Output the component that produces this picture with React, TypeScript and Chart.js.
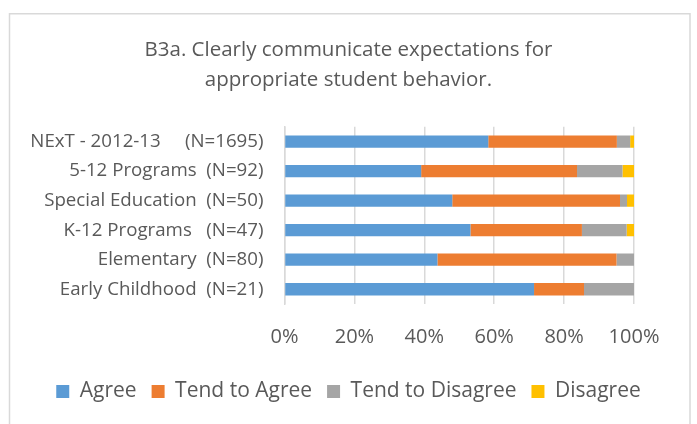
import React, { useEffect, useRef } from "react";
import { Chart, registerables } from "chart.js";

Chart.register(...registerables);

const categories = [
  "NExT - 2012-13     (N=1695)",
  "5-12 Programs  (N=92)",
  "Special Education  (N=50)",
  "K-12 Programs   (N=47)",
  "Elementary  (N=80)",
  "Early Childhood  (N=21)",
];
const agree = [58.3, 39.1, 48, 53.2, 43.75, 71.4];
const tendAgree = [36.8, 44.6, 48, 31.9, 51.25, 14.3];
const tendDisagree = [3.8, 13.0, 2, 12.8, 5, 14.3];
const disagree = [1.1, 3.3, 2, 2.1, 0, 0];
const seriesNames = ["Agree", "Tend to Agree", "Tend to Disagree", "Disagree"];
const seriesColors = ["#5B9BD5", "#ED7D31", "#A5A5A5", "#FFC000"];
const titleLines = [
  "B3a. Clearly communicate expectations for",
  "appropriate student behavior.",
];

const FONT = "'Open Sans', sans-serif";
const TEXT = "#595959";

const borderPlugin = {
  id: "frame",
  beforeDraw(chart: any) {
    const ctx = chart.ctx;
    ctx.save();
    ctx.fillStyle = "#ffffff";
    ctx.fillRect(0, 0, chart.width, chart.height);
    ctx.strokeStyle = "#d9d9d9";
    ctx.lineWidth = 1.5;
    ctx.strokeRect(9.5, 13.75, 680.5, 500);
    ctx.restore();
  },
};

export default function App() {
  const ref = useRef<HTMLCanvasElement>(null);
  useEffect(() => {
    if (!ref.current) return;
    const data = [agree, tendAgree, tendDisagree, disagree];
    const chart = new Chart(ref.current, {
      type: "bar",
      data: {
        labels: categories,
        datasets: seriesNames.map((name, i) => ({
          label: name,
          data: data[i],
          backgroundColor: seriesColors[i],
          borderWidth: 0,
          barPercentage: 1,
          categoryPercentage: 0.417,
        })),
      },
      options: {
        indexAxis: "y",
        responsive: false,
        animation: false,
        layout: { padding: { top: 35, bottom: 12, left: 0, right: 0 } },
        plugins: {
          title: {
            display: true,
            text: titleLines,
            color: TEXT,
            font: { family: FONT, size: 20.5, weight: "normal", lineHeight: 1.46 },
            padding: { top: 0, bottom: 32 },
          },
          legend: {
            position: "bottom",
            labels: {
              color: TEXT,
              font: { family: FONT, size: 21 },
              boxWidth: 13,
              boxHeight: 13,
              padding: 15,
            },
          },
          tooltip: { enabled: false },
        },
        scales: {
          x: {
            stacked: true,
            min: 0,
            max: 100,
            ticks: {
              stepSize: 20,
              color: TEXT,
              font: { family: FONT, size: 20 },
              padding: 21,
              callback: (v: any) => v + "%",
            },
            grid: { color: "#d9d9d9", lineWidth: 1.5, drawTicks: false },
            border: { display: false },
            afterFit: (s: any) => {
              s.height = 62;
            },
          },
          y: {
            stacked: true,
            ticks: {
              color: TEXT,
              font: { family: FONT, size: 18.7 },
              padding: 21,
              autoSkip: false,
            },
            grid: { display: false, drawTicks: false },
            border: { display: true, color: "#d9d9d9", width: 1.5 },
            afterFit: (s: any) => {
              s.width = 284.5;
            },
          },
          yRight: {
            type: "category",
            position: "right",
            labels: categories,
            ticks: { display: false },
            grid: { display: false, drawTicks: false },
            border: { display: false },
            afterFit: (s: any) => {
              s.width = 63;
            },
          },
        },
      },
      plugins: [borderPlugin],
    });
    return () => chart.destroy();
  }, []);
  return (
    <div style={{ position: "fixed", left: 0, top: 0, width: 697, height: 424 }}>
      <canvas ref={ref} width={697} height={424} style={{ display: "block" }} />
    </div>
  );
}
